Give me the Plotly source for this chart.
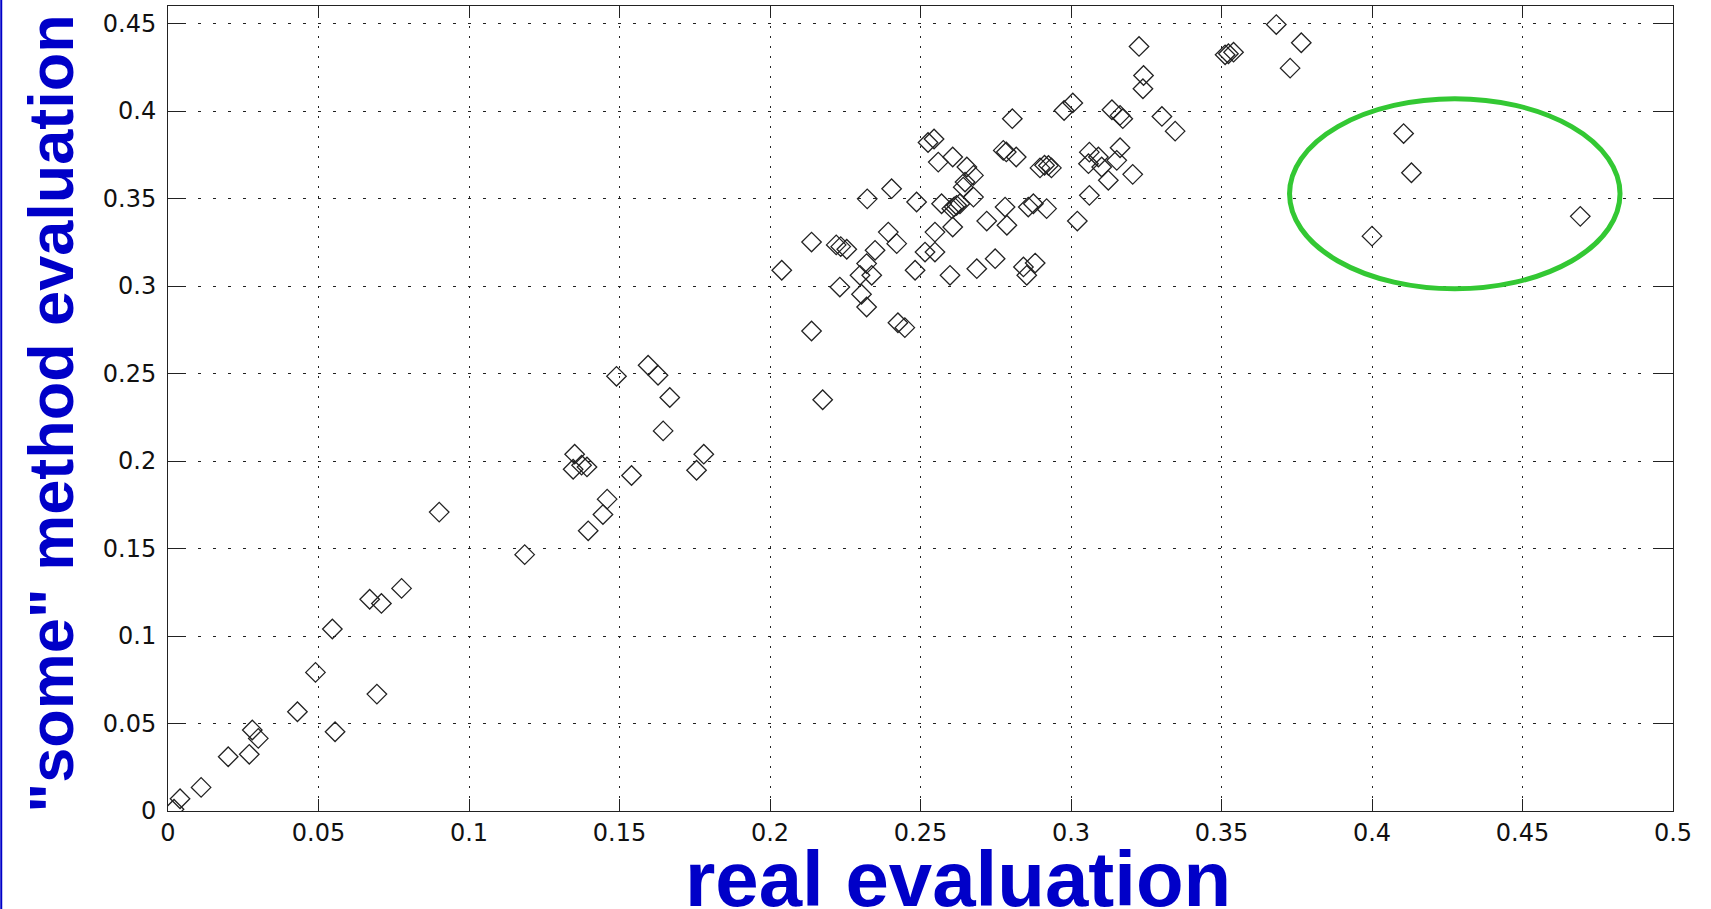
import plotly.graph_objects as go

# Real evaluation (x) vs. "some" method evaluation (y), one entry per sample
real_eval = [
    0.002, 0.004, 0.011, 0.020, 0.027, 0.028, 0.030, 0.043, 0.049, 0.0555,
    0.0546, 0.0694, 0.067, 0.0709, 0.0776, 0.0901, 0.1185,
    0.149, 0.1595, 0.1628, 0.1667, 0.1645, 0.178, 0.1756, 0.154, 0.1351,
    0.1346, 0.1374, 0.1392, 0.1459, 0.1445, 0.1396, 0.2175,
    0.2039, 0.2138, 0.2138, 0.222, 0.2235, 0.2255, 0.2232, 0.2323, 0.2404,
    0.2321, 0.2299, 0.2338, 0.2349, 0.2393, 0.2421, 0.2304, 0.2321, 0.2425,
    0.2448, 0.2482, 0.2487, 0.2515, 0.2548, 0.2548, 0.2525, 0.2545, 0.2559,
    0.2607, 0.257, 0.2604, 0.262, 0.2631, 0.2612, 0.2607, 0.2598, 0.2654,
    0.2676, 0.2642, 0.2648, 0.2676, 0.272, 0.2687, 0.2748, 0.2781, 0.2787,
    0.2775, 0.2785, 0.2818, 0.2805, 0.2858, 0.2875, 0.2919, 0.2842, 0.2853,
    0.2881, 0.2897, 0.2912, 0.2925, 0.2935, 0.2977, 0.3006, 0.3226, 0.3241,
    0.3239, 0.3136, 0.3163, 0.3172, 0.3302, 0.3346, 0.3061, 0.3091, 0.3058,
    0.3102, 0.3163, 0.3152, 0.3124, 0.3205, 0.3061, 0.3021, 0.3512, 0.3523,
    0.354, 0.3682, 0.3765, 0.3728,
    0.4105, 0.4131, 0.400, 0.4692,
]
method_eval = [
    0.001, 0.007, 0.0135, 0.031, 0.0324, 0.0463, 0.0415, 0.0567, 0.0792, 0.0453,
    0.104, 0.0668, 0.121, 0.1186, 0.1272, 0.1708, 0.1465,
    0.2484, 0.2547, 0.249, 0.2363, 0.2172, 0.2039, 0.1947, 0.1917, 0.2039,
    0.1953, 0.1976, 0.1966, 0.1782, 0.1694, 0.1601, 0.235,
    0.309, 0.3251, 0.2743, 0.3235, 0.3225, 0.321, 0.2994, 0.3498, 0.3556,
    0.3128, 0.3061, 0.3061, 0.3204, 0.3308, 0.3242, 0.2953, 0.288, 0.279,
    0.2762, 0.309, 0.348, 0.3194, 0.3194, 0.3308, 0.382, 0.384, 0.3708,
    0.3737, 0.347, 0.3442, 0.3461, 0.347, 0.3452, 0.3337, 0.3061, 0.368,
    0.3632, 0.3565, 0.3594, 0.3508, 0.3371, 0.3099, 0.3156, 0.3451, 0.3347,
    0.3775, 0.3766, 0.3737, 0.3956, 0.3451, 0.347, 0.3442, 0.3109, 0.3061,
    0.3131, 0.3675, 0.369, 0.3689, 0.3675, 0.4003, 0.4046, 0.4369, 0.4203,
    0.4127, 0.4007, 0.3975, 0.3956, 0.3969, 0.3885, 0.3765, 0.3737, 0.3699,
    0.368, 0.379, 0.3718, 0.3604, 0.3638, 0.3518, 0.3371, 0.4321, 0.4327,
    0.4336, 0.4494, 0.439, 0.4245,
    0.3871, 0.3647, 0.3285, 0.3398,
]

# Highlighted outlier group (ellipse bounds in data units)
outlier_x = [0.3726, 0.4824]
outlier_y = [0.2984, 0.4070]

x_ticks = [0, 0.05, 0.1, 0.15, 0.2, 0.25, 0.3, 0.35, 0.4, 0.45, 0.5]
x_tick_text = ["0", "0.05", "0.1", "0.15", "0.2", "0.25", "0.3", "0.35", "0.4", "0.45", "0.5"]
y_ticks = [0, 0.05, 0.1, 0.15, 0.2, 0.25, 0.3, 0.35, 0.4, 0.45]
y_tick_text = ["0", "0.05", "0.1", "0.15", "0.2", "0.25", "0.3", "0.35", "0.4", "0.45"]

BLUE = "#0000C8"
TICK_FONT = dict(family="DejaVu Sans", size=24, color="#111111")

fig = go.Figure()
fig.add_trace(go.Scatter(
    x=real_eval, y=method_eval, mode="markers",
    marker=dict(symbol="diamond-open", size=15, color="#222222",
                line=dict(width=1.3, color="#222222")),
    showlegend=False, hoverinfo="x+y",
))

fig.add_shape(type="circle", xref="x", yref="y",
              x0=outlier_x[0], x1=outlier_x[1], y0=outlier_y[0], y1=outlier_y[1],
              line=dict(color="#33C833", width=5))

# thin blue frame line on the left edge of the slide
fig.add_shape(type="line", xref="paper", yref="paper",
              x0=-0.1108, x1=-0.1108, y0=-0.125, y1=1.01,
              line=dict(color=BLUE, width=2))

axis_common = dict(
    showline=True, linecolor="#222222", linewidth=1,
    mirror="ticks", ticks="inside", tickcolor="#222222", tickwidth=1,
    showgrid=True, gridcolor="#222222", gridwidth=1,
    zeroline=False, tickfont=TICK_FONT,
)

fig.update_xaxes(range=[0, 0.5], tickvals=x_ticks, ticktext=x_tick_text,
                 ticklen=12, griddash="1.5px,8.5px", ticklabelstandoff=0,
                 **axis_common)
fig.update_yaxes(range=[0, 0.46], tickvals=y_ticks, ticktext=y_tick_text,
                 ticklen=17, griddash="3px,12px", ticklabelstandoff=6,
                 **axis_common)

fig.add_annotation(text='"some" method evaluation', textangle=-90,
                   xref="paper", yref="paper", x=-0.0775, y=0.494,
                   xanchor="center", yanchor="middle", showarrow=False,
                   font=dict(family="Liberation Sans, Arial", size=63,
                             color=BLUE, weight="bold"))
fig.add_annotation(text="real evaluation",
                   xref="paper", yref="paper", x=0.525, y=-0.0845,
                   xanchor="center", yanchor="middle", showarrow=False,
                   font=dict(family="Liberation Sans, Arial", size=78,
                             color=BLUE, weight="bold"))

fig.update_layout(
    width=1711, height=909,
    margin=dict(l=168, r=38, t=6, b=98),
    paper_bgcolor="white", plot_bgcolor="white",
)

fig.write_html("out.html")
